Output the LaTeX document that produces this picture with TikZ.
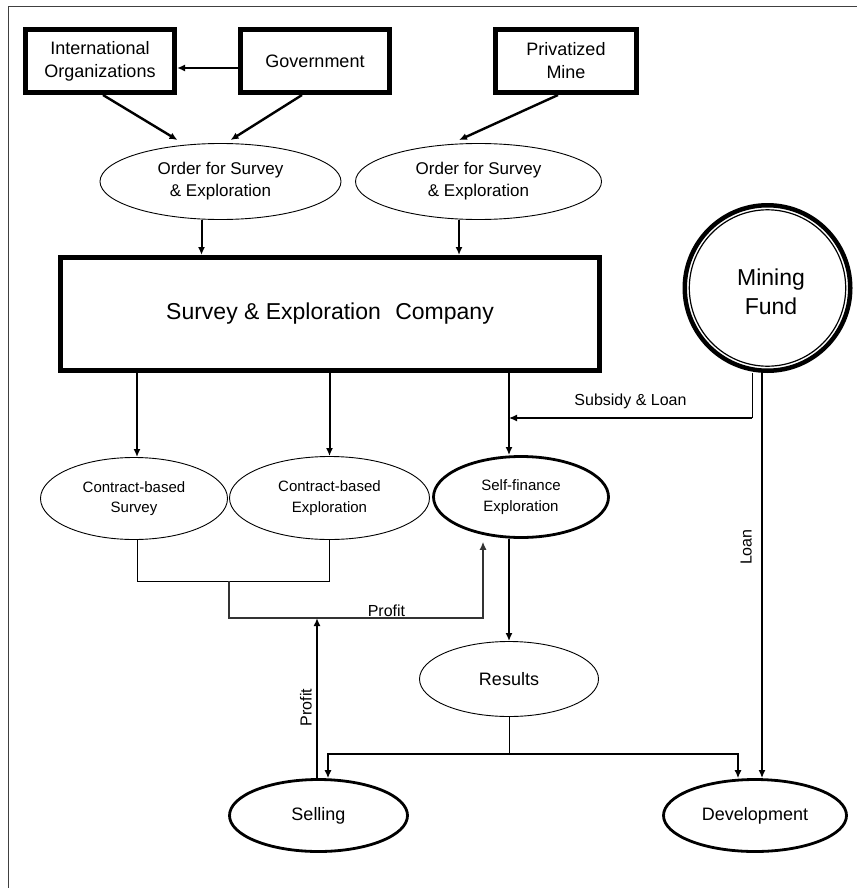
\documentclass[tikz,border=0pt]{standalone}
\usepackage{fontspec}
\setmainfont{Liberation Sans}
\usetikzlibrary{shapes.geometric,arrows.meta,calc}
\begin{document}
\begin{tikzpicture}[x=1pt,y=-1pt,
  every node/.style={align=center, inner sep=0pt},
  bigfont/.style={font=\fontsize{23}{29}\selectfont},
  midfont/.style={font=\fontsize{18}{23}\selectfont},
  ordfont/.style={font=\fontsize{17}{22}\selectfont},
  smallfont/.style={font=\fontsize{15}{20.5}\selectfont},
  labfont/.style={font=\fontsize{16}{19}\selectfont},
  dbox/.style={draw, rectangle, line width=3.3pt},
  oval/.style={draw, ellipse, line width=0.9pt},
  boldoval/.style={draw, ellipse, line width=2.8pt},
  arr/.style={-{Latex[length=8pt,width=7pt]}, line width=2pt},
  tarr/.style={-{Latex[length=8pt,width=7pt]}, line width=1.2pt},
  link/.style={line width=1pt},
]
\useasboundingbox (0,0) rectangle (857,888);

% page frame
\draw[line width=1.3pt, black!75] (8.5,888) -- (8.5,6.5) -- (857,6.5);

% clients
\node[dbox, midfont, minimum width=150.7pt, minimum height=64.7pt] (io) at (100,61) {International\\Organizations};
\node[dbox, midfont, minimum width=150.7pt, minimum height=64.7pt] (gov) at (315,61) {Government};
\node[dbox, midfont, minimum width=142.7pt, minimum height=64.7pt] (mine) at (566,61) {Privatized\\Mine};

% orders
\node[oval, ordfont, minimum width=241pt, minimum height=76pt] (order1) at (220.5,181.5) {Order for Survey\\\& Exploration};
\node[oval, ordfont, minimum width=246pt, minimum height=76pt] (order2) at (478.5,181.5) {Order for Survey\\\& Exploration};

% company
\node[dbox, bigfont, minimum width=540.7pt, minimum height=114.7pt] (sec) at (330,314) {Survey \& Exploration\hspace{0.35em} Company};

% fund
\node[draw, circle, line width=4.5pt, bigfont, minimum size=165.5pt] (fund) at (767.5,288) {};
\node[bigfont] (fundtext) at (771,292) {Mining\\Fund};
\draw[line width=1.2pt] (fund.center) circle[radius=78.2pt];

% activities
\node[oval, smallfont, minimum width=187pt, minimum height=82pt] (cs) at (134,498.5) {Contract-based\\Survey};
\node[oval, smallfont, minimum width=200pt, minimum height=83pt] (ce) at (329.5,498) {Contract-based\\Exploration};
\node[boldoval, smallfont, minimum width=175pt, minimum height=81pt] (sf) at (521,497) {Self-finance\\Exploration};

\node[oval, midfont, minimum width=179pt, minimum height=75pt] (res) at (509,679) {Results};
\node[boldoval, midfont, minimum width=178pt, minimum height=72pt] (sell) at (318.5,815.5) {Selling};
\node[boldoval, midfont, minimum width=183pt, minimum height=72pt] (dev) at (755,815.5) {Development};

% inner lines of the double frames
\foreach \n in {io,gov,mine,sec}
  \draw[line width=1.3pt] ([shift={(4pt,-4pt)}]\n.north west) rectangle ([shift={(-4pt,4pt)}]\n.south east);

% junction points
\coordinate (subin) at (509,418);
\coordinate (cjoin) at (229,581);
\coordinate (pjoin) at (317,618);
\coordinate (rsplit) at (509,754);

% orders
\draw[arr, line width=2.4pt] ([xshift=3pt]io.south) -- ([shift={(-43pt,3pt)}]order1.north);
\draw[arr, line width=2.4pt] ([xshift=-13pt]gov.south) -- ([shift={(10pt,3pt)}]order1.north);
\draw[arr, line width=2.4pt] ([xshift=-8pt]mine.south) -- ([shift={(-19.5pt,3pt)}]order2.north);
\draw[arr] ([yshift=-7pt]gov.west) -- ([yshift=-7pt]io.east);
\draw[arr] ([xshift=-19pt]order1.south) -- ([xshift=-19pt]order1.south |- sec.north);
\draw[arr] ([xshift=-19.5pt]order2.south) -- ([xshift=-19.5pt]order2.south |- sec.north);

% company to activities
\draw[arr] ([xshift=3pt]cs.north |- sec.south) -- ([xshift=3pt]cs.north);
\draw[arr] (ce.north |- sec.south) -- (ce.north);
\draw[arr] ([xshift=-12pt]sf.north |- sec.south) -- ([xshift=-12pt]sf.north);

% fund flows
\draw[link] ([xshift=-15.5pt]fund.south) -- ([xshift=-15.5pt]fund.south |- subin);
\draw[tarr] ([xshift=-15.5pt]fund.south |- subin) -- node[above=9pt, labfont] {Subsidy \& Loan} (subin);
\draw[arr, line width=2.4pt] ([xshift=-5.5pt]fund.south) -- node[pos=0.43, rotate=90, anchor=south, inner sep=9pt, labfont] {Loan} ([xshift=7pt]dev.north);

% profit from contracts
\draw[link] ([xshift=3pt]cs.south) |- (ce.south |- cjoin) -- (ce.south);
\draw[tarr, black!80] (cjoin) -- (cjoin |- pjoin) -- node[pos=0.62, above=1pt, labfont, black] {Profit} ([xshift=-38pt]sf.south |- pjoin) -- ([shift={(-38pt,-3pt)}]sf.south);

% profit from selling
\draw[arr, line width=2.4pt] ([xshift=-1.5pt]sell.north) -- node[pos=0.44, rotate=90, anchor=south, inner sep=4pt, labfont] {Profit} ([xshift=-1.5pt]sell.north |- pjoin);

% results
\draw[arr] ([xshift=-12pt]sf.south) -- (res.north);
\draw[link] (res.south) -- (rsplit);
\draw[tarr] (rsplit) -| ([xshift=9.5pt]sell.north);
\draw[tarr] (rsplit) -| ([xshift=-17pt]dev.north);
\end{tikzpicture}
\end{document}
